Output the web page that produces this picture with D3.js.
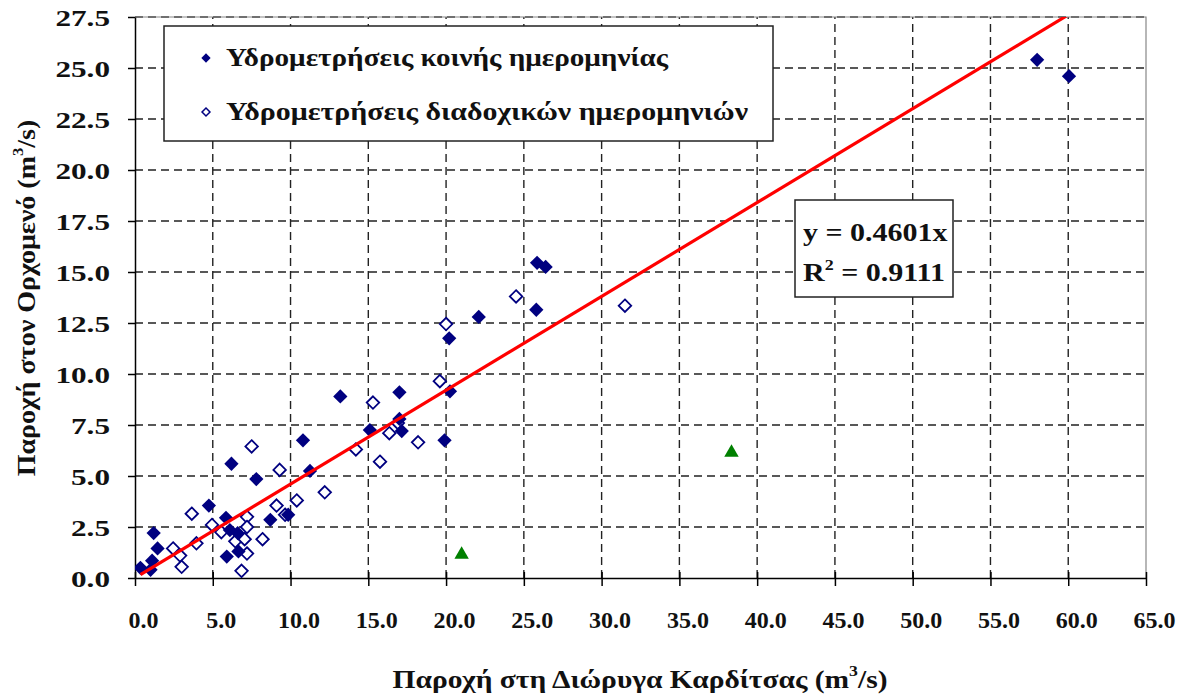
<!DOCTYPE html>
<html><head><meta charset="utf-8">
<script src="https://cdn.jsdelivr.net/npm/d3@7"></script>
<style>body{margin:0;background:#fff}svg{display:block}</style>
</head><body><svg id="c" width="1179" height="695"></svg>
<script>
// ---- data ----
const xTicks = [0,5,10,15,20,25,30,35,40,45,50,55,60,65];
const yTicks = [0,2.5,5,7.5,10,12.5,15,17.5,20,22.5,25,27.5];
const commonX = [0.35,1.0,1.1,1.2,1.45,4.75,5.85,5.9,6.1,6.2,6.6,6.65,7.8,8.7,9.85,10.8,11.25,13.2,15.1,17.0,17.0,17.15,19.9,20.2,20.25,22.1,25.8,25.85,26.4,58.0,60.05];
const commonY = [0.5,0.4,0.85,2.2,1.45,3.55,2.95,1.05,2.35,5.6,2.2,1.3,4.85,2.85,3.1,6.75,5.25,8.9,7.25,9.1,7.8,7.2,6.75,11.75,9.15,12.8,13.15,15.45,15.25,25.4,24.6];
const succX = [2.45,2.9,3.0,3.65,3.95,4.95,5.55,6.45,6.85,7.05,7.2,7.2,7.2,7.5,8.2,9.1,9.3,9.65,10.4,12.2,14.2,15.3,15.75,16.35,16.9,18.2,19.6,20.0,24.5,31.5];
const succY = [1.45,1.1,0.55,3.15,1.7,2.6,2.25,1.8,0.35,1.9,3.0,2.5,1.2,6.45,1.9,3.55,5.3,3.1,3.8,4.2,6.3,8.6,5.7,7.1,7.6,6.65,9.65,12.45,13.8,13.35];
const otherX = [21.0,38.35];
const otherY = [1.2,6.2];
const slope = 0.4601;
const r2 = "0.9111";
const legendLabels = ["Υδρομετρήσεις κοινής ημερομηνίας","Υδρομετρήσεις διαδοχικών ημερομηνιών"];
const xTitle = "Παροχή στη Διώρυγα Καρδίτσας (m";
const yTitle = "Παροχή στον Ορχομενό (m";

// ---- chart ----
const svg = d3.select("#c");
const L=135,R=1146,T=17,B=578;
const x = d3.scaleLinear([0,65],[L,R]);
const y = d3.scaleLinear([0,27.5],[B,T]);
const font = "'Liberation Serif','Times New Roman',serif";
const navy = "#000080";

svg.append("defs").append("clipPath").attr("id","pc")
  .append("rect").attr("x",L).attr("y",T).attr("width",R-L).attr("height",B-T);

// gridlines
const grid = svg.append("g").attr("stroke","#222").attr("stroke-width",1.4).attr("stroke-dasharray","8,5");
grid.selectAll("line.v").data(xTicks.filter(d=>d>0&&d<65)).join("line")
  .attr("x1",d=>x(d)).attr("x2",d=>x(d)).attr("y1",B).attr("y2",T);
grid.selectAll("line.h").data(yTicks.filter(d=>d>0)).join("line")
  .attr("y1",d=>y(d)).attr("y2",d=>y(d)).attr("x1",L).attr("x2",R);

// plot border (top/right gray)
svg.append("path").attr("d",`M${L},${T}H${R}V${B}`).attr("fill","none").attr("stroke","#888").attr("stroke-width",1.2);

// axes
const ax = svg.append("g").attr("transform",`translate(0,${B})`)
  .call(d3.axisBottom(x).tickValues(xTicks).tickFormat(d3.format(".1f")).tickSizeInner(8).tickSizeOuter(0));
ax.select(".domain").attr("stroke","#000").attr("stroke-width",1.5);
ax.selectAll(".tick line").attr("y1",-6).attr("stroke","#000").attr("stroke-width",1.5);
ax.selectAll(".tick text").attr("font-family",font).attr("font-weight","bold").attr("font-size",24)
  .attr("fill","#111").attr("dy",0).attr("y",50).attr("x",8);

const ay = svg.append("g").attr("transform",`translate(${L},0)`)
  .call(d3.axisLeft(y).tickValues(yTicks).tickFormat(d3.format(".1f")).tickSizeInner(7).tickSizeOuter(0));
ay.select(".domain").attr("stroke","#000").attr("stroke-width",1.5);
ay.selectAll(".tick line").attr("stroke","#000").attr("stroke-width",1.5);
ay.selectAll(".tick text").attr("font-family",font).attr("font-weight","bold").attr("font-size",24)
  .attr("fill","#111").attr("dy",8).attr("x",-25/1.3).attr("transform","scale(1.3,1)");

// points
const plot = svg.append("g").attr("clip-path","url(#pc)");
const diamond = d3.symbol(d3.symbolDiamond2, 100);
plot.selectAll("path.s").data(succX.map((v,i)=>[v,succY[i]])).join("path")
  .attr("d",diamond).attr("transform",d=>`translate(${x(d[0])},${y(d[1])})`)
  .attr("fill","#fff").attr("stroke",navy).attr("stroke-width",1.8);
plot.selectAll("path.c").data(commonX.map((v,i)=>[v,commonY[i]])).join("path")
  .attr("d",d3.symbol(d3.symbolDiamond2,130)).attr("transform",d=>`translate(${x(d[0])},${y(d[1])})`)
  .attr("fill",navy);
plot.selectAll("path.o").data(otherX.map((v,i)=>[v,otherY[i]])).join("path")
  .attr("d",d3.symbol(d3.symbolTriangle,90)).attr("transform",d=>`translate(${x(d[0])},${y(d[1])+1})`)
  .attr("fill","#008000");

// trend line
const x0 = d3.min(commonX.concat(succX)), x1 = d3.max(commonX.concat(succX));
plot.append("line").attr("x1",x(x0)).attr("y1",y(slope*x0)).attr("x2",x(x1)).attr("y2",y(slope*x1))
  .attr("stroke","#ff0000").attr("stroke-width",3.2);

// legend
const lg = svg.append("g");
lg.append("rect").attr("x",164).attr("y",26).attr("width",609).attr("height",115)
  .attr("fill","#fff").attr("stroke","#222").attr("stroke-width",1.5);
const ly=[58,112], lw=[442,522];
lg.append("path").attr("d",d3.symbol(d3.symbolDiamond2,55)).attr("transform",`translate(206,${ly[0]})`).attr("fill",navy);
lg.append("path").attr("d",d3.symbol(d3.symbolDiamond2,40)).attr("transform",`translate(206,${ly[1]})`)
  .attr("fill","#fff").attr("stroke",navy).attr("stroke-width",1.5);
legendLabels.forEach((t,i)=>{
  lg.append("text").attr("x",226).attr("y",ly[i]+8).text(t)
    .attr("font-family",font).attr("font-weight","bold").attr("font-size",25).attr("fill","#111")
    .attr("textLength",lw[i]).attr("lengthAdjust","spacingAndGlyphs");
});

// equation box
const eq = svg.append("g");
eq.append("rect").attr("x",795).attr("y",200).attr("width",158).attr("height",97)
  .attr("fill","#fff").attr("stroke","#222").attr("stroke-width",1.5);
eq.append("text").attr("transform","translate(803,241) scale(1.2,1)").attr("font-family",font).attr("font-weight","bold")
  .attr("font-size",25).attr("fill","#111")
  .text(`y = ${slope}x`);
const rt = eq.append("text").attr("transform","translate(803,281) scale(1.2,1)").attr("font-family",font).attr("font-weight","bold")
  .attr("font-size",25).attr("fill","#111");
rt.append("tspan").text("R");
rt.append("tspan").attr("font-size",15).attr("dy",-11).text("2");
rt.append("tspan").attr("dy",11).text(` = ${r2}`);

// axis titles
const xt = svg.append("text").attr("transform","translate(640,688) scale(1.18,1)").attr("text-anchor","middle")
  .attr("font-family",font).attr("font-weight","bold").attr("font-size",25).attr("fill","#111");
xt.append("tspan").text(xTitle);
xt.append("tspan").attr("font-size",15).attr("dy",-12).text("3");
xt.append("tspan").attr("dy",12).text("/s)");

const yt = svg.append("text").attr("transform","translate(35,298) rotate(-90) scale(1.12,1)").attr("text-anchor","middle")
  .attr("font-family",font).attr("font-weight","bold").attr("font-size",25).attr("fill","#111");
yt.append("tspan").text(yTitle);
yt.append("tspan").attr("font-size",15).attr("dy",-12).text("3");
yt.append("tspan").attr("dy",12).text("/s)");
</script></body></html>
